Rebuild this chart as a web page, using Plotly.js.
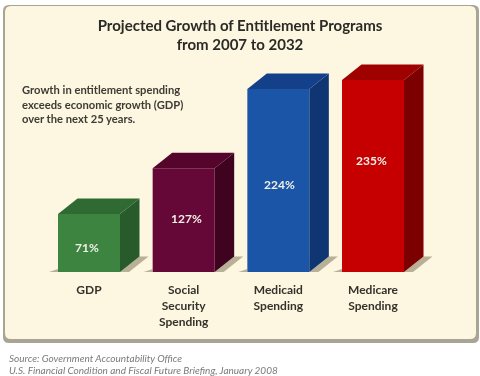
<!DOCTYPE html>
<html>
<head>
<meta charset="utf-8">
<script src="https://cdn.plot.ly/plotly-3.0.1.min.js"></script>
<style>html,body{margin:0;padding:0;background:#fff}#c{width:480px;height:376px;filter:blur(0.35px)}</style>
</head>
<body>
<div id="c"></div>
<script>
var categories = ["GDP", "Social<br>Security<br>Spending", "Medicaid<br>Spending", "Medicare<br>Spending"];
var growth = [71, 127, 224, 235];
var growthLabels = ["71%", "127%", "224%", "235%"];
var frontColors = ["#3d8440", "#660837", "#1a55a8", "#c60000"];
var topColors = ["#2f6a32", "#55052c", "#14408a", "#9f0000"];
var sideColors = ["#295a2c", "#3f0320", "#0f3672", "#7c0000"];

var W = 480, H = 376, mB = 104;
var pxPerCat = 94.67, pxPerUnit = 0.817, x0Px = 89;
var barW = 62 / pxPerCat;
var dx = 19.5 / pxPerCat, dy = 15.5 / pxPerUnit;
var labelLift = [0.43, 0.52, 0.48, 0.58];
var labelShift = [-2, 3, 1, -2];

var idx = categories.map(function (_, i) { return i; });
var traces = [];

function poly(xs, ys, color, opacity) {
  traces.push({
    type: "scatter", mode: "lines", x: xs, y: ys, fill: "toself",
    fillcolor: color, line: { width: 0, color: color },
    opacity: opacity === undefined ? 1 : opacity, hoverinfo: "skip", showlegend: false
  });
}

idx.forEach(function (i) {
  var r = i + barW / 2, l = i - barW / 2, s = 9 / pxPerCat;
  poly([r, r + s, r + dx + s, r + dx], [0, 0, dy, dy], "#8a8468", 0.6);
  poly([l - s, l, l], [0, 0, dy * 0.2], "#8a8468", 0.6);
});

traces.push({
  type: "bar", x: idx, y: growth, width: barW,
  marker: { color: frontColors, line: { width: 0 } },
  hoverinfo: "skip", showlegend: false
});

idx.forEach(function (i) {
  var r = i + barW / 2, l = i - barW / 2, v = growth[i];
  poly([r, r + dx, r + dx, r], [0, dy, v + dy, v], sideColors[i]);
  poly([l, l + dx, r + dx, r], [v, v + dy, v + dy, v], topColors[i]);
});

function px(p) { return p / W; }
function py(p) { return (H - mB - p) / (H - mB); }
function roundRect(l, t, r, b, c) {
  var L = px(l), R = px(r), T = py(t), B = py(b), cx = px(c), cy = c / (H - mB);
  return "M" + (L + cx) + "," + T + " L" + (R - cx) + "," + T + " Q" + R + "," + T + " " + R + "," + (T - cy) +
    " L" + R + "," + (B + cy) + " Q" + R + "," + B + " " + (R - cx) + "," + B +
    " L" + (L + cx) + "," + B + " Q" + L + "," + B + " " + L + "," + (B + cy) +
    " L" + L + "," + (T - cy) + " Q" + L + "," + T + " " + (L + cx) + "," + T + " Z";
}

var annotations = idx.map(function (i) {
  return {
    x: i, y: growth[i] * labelLift[i], xref: "x", yref: "y", xshift: labelShift[i],
    text: "<b>" + growthLabels[i] + "</b>",
    showarrow: false, font: { family: "Lato, sans-serif", size: 12, color: "#f2f0e6" }
  };
});
annotations.push({
  xref: "paper", yref: "paper", x: px(20), y: py(104), xanchor: "left", yanchor: "middle", align: "left",
  showarrow: false,
  text: "<b>Growth in entitlement spending<br>exceeds economic growth (GDP)<br>over the next 25 years.</b>",
  font: { family: "Lato, sans-serif", size: 11.2, color: "#3c3c34" }
});
var sourceLines = [
  "<i>Source: Government Accountability Office</i>",
  "<i>U.S. Financial Condition and Fiscal Future Briefing, January 2008</i>"
];
[358.5, 369.5].forEach(function (yPx, k) {
  annotations.push({
    xref: "paper", yref: "paper", x: px(7), y: py(yPx), xanchor: "left", yanchor: "middle", align: "left",
    showarrow: false, text: sourceLines[k],
    font: { family: "Lato, sans-serif", size: 10, color: "#7a7a78" }
  });
});

var layout = {
  width: W, height: H,
  margin: { l: 0, r: 0, t: 0, b: mB, pad: 0 },
  paper_bgcolor: "#ffffff", plot_bgcolor: "rgba(0,0,0,0)",
  showlegend: false, hovermode: false,
  title: {
    text: "<b>Projected Growth of Entitlement Programs<br>from 2007 to 2032</b>",
    x: 0.5, xanchor: "center", y: 0.918, yanchor: "top",
    font: { family: "Lato, sans-serif", size: 15, color: "#2a2a26" }
  },
  xaxis: {
    range: [-x0Px / pxPerCat, (W - x0Px) / pxPerCat],
    tickmode: "array", tickvals: idx,
    ticktext: categories.map(function (c) { return "<b>" + c.replace(/<br>/g, "</b><br><b>") + "</b>"; }),
    showgrid: false, zeroline: false, showline: false, ticks: "outside", ticklen: 7,
    tickcolor: "rgba(0,0,0,0)",
    tickfont: { family: "Lato, sans-serif", size: 12, color: "#33332c" }
  },
  yaxis: {
    range: [0, (H - mB) / pxPerUnit], visible: false, fixedrange: true
  },
  shapes: [
    { type: "path", xref: "paper", yref: "paper", layer: "below", path: roundRect(3, 5, 479, 343, 6),
      fillcolor: "#a8a594", line: { width: 0 } },
    { type: "path", xref: "paper", yref: "paper", layer: "below", path: roundRect(5, 6, 476, 339, 6),
      fillcolor: "#fdf6e0", line: { width: 0 } }
  ],
  annotations: annotations
};

Plotly.newPlot("c", traces, layout, { displayModeBar: false, staticPlot: true });
</script>
</body>
</html>
